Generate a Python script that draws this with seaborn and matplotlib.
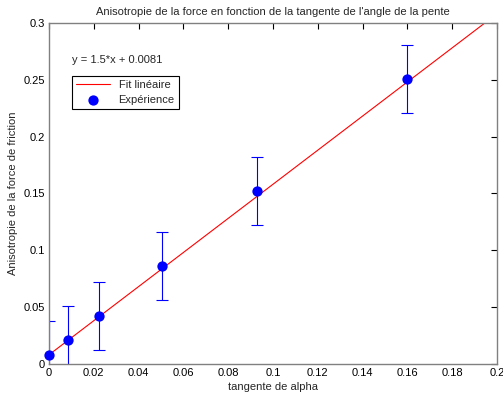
import matplotlib
matplotlib.use("Agg")
import matplotlib.pyplot as plt
import seaborn as sns
import numpy as np
import pandas as pd

tan_alpha = [0.0, 0.0085, 0.0223, 0.0505, 0.093, 0.160]
anisotropie = [0.0082, 0.021, 0.042, 0.086, 0.152, 0.251]
erreur = [0.03, 0.03, 0.03, 0.03, 0.03, 0.03]
fit_slope = 1.5
fit_intercept = 0.0081
fit_x = [0.0, 0.2]
xticks = [0, 0.02, 0.04, 0.06, 0.08, 0.1, 0.12, 0.14, 0.16, 0.18, 0.2]
yticks = [0, 0.05, 0.1, 0.15, 0.2, 0.25, 0.3]

sns.set_style("white")
plt.rcParams['font.family'] = ['Liberation Sans', 'DejaVu Sans']
plt.rcParams['font.size'] = 8

fig = plt.figure(figsize=(5.03, 3.96), dpi=100)
ax = fig.add_axes([0.0974, 0.0808, 0.8906, 0.8612])

df_fit = pd.DataFrame({"x": fit_x, "y": [fit_slope * v + fit_intercept for v in fit_x]})
df_pts = pd.DataFrame({"x": tan_alpha, "y": anisotropie})

sns.lineplot(data=df_fit, x="x", y="y", ax=ax, color="#ff0000", lw=0.8, label="Fit linéaire")
ax.errorbar(tan_alpha, anisotropie, yerr=erreur, fmt="none", ecolor="#0000ff",
            elinewidth=0.8, capsize=4.5, capthick=0.8, clip_on=True)
sns.scatterplot(data=df_pts, x="x", y="y", ax=ax, color="#0000ff", s=55,
                edgecolor="#0000ff", linewidth=0, label="Expérience", zorder=5, clip_on=False)

ax.set_xlim(0, 0.2)
ax.set_ylim(0, 0.3)
ax.set_xticks(xticks)
ax.set_xticklabels([f"{v:g}" for v in xticks])
ax.set_yticks(yticks)
ax.set_yticklabels([f"{v:g}" for v in yticks])
ax.tick_params(direction="in", top=True, right=True, length=4, width=0.8,
               colors="black", labelsize=8, pad=3)
for s in ax.spines.values():
    s.set_color("#808080")
    s.set_linewidth(1)
    s.set_visible(True)

ax.set_title("Anisotropie de la force en fonction de la tangente de l'angle de la pente",
             fontsize=8, pad=6)
ax.set_xlabel("tangente de alpha", fontsize=8, labelpad=3)
ax.set_ylabel("Anisotropie de la force de friction", fontsize=8, labelpad=4)

ax.text(0.051, 0.891, "y = 1.5*x + 0.0081", transform=ax.transAxes, fontsize=8,
        va="center", ha="left")
leg = ax.legend(loc="upper left", bbox_to_anchor=(0.051, 0.845), fancybox=False,
                framealpha=1, edgecolor="black", fontsize=8, borderpad=0.4,
                handlelength=3.0, labelspacing=0.4, borderaxespad=0)
leg.get_frame().set_linewidth(0.8)

fig.savefig("out.png", dpi=100)
